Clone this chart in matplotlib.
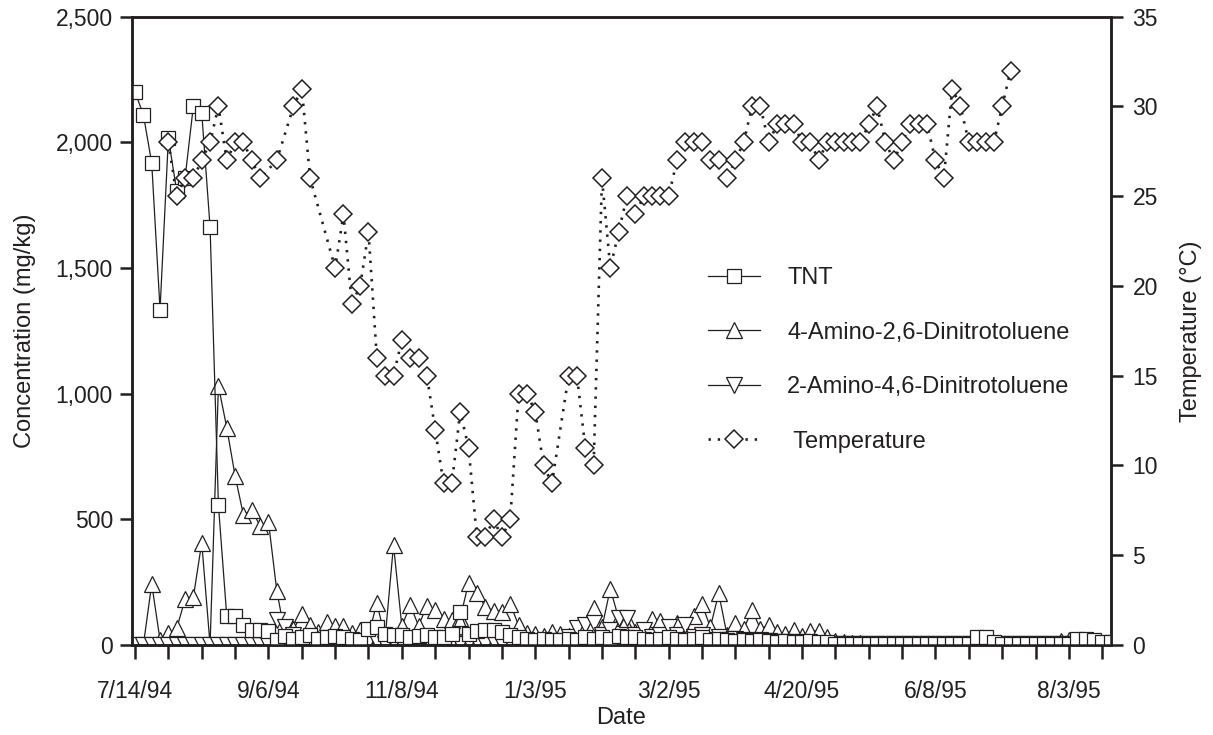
import numpy as np
import matplotlib
matplotlib.use("Agg")
import matplotlib.pyplot as plt
from matplotlib.ticker import FuncFormatter

plt.rcParams['font.family'] = ['Liberation Sans', 'DejaVu Sans']

nan = np.nan
# category index (sampling events, evenly spaced on the category axis)
n_points = 118
tick_labels = {0: "7/14/94", 16: "9/6/94", 32: "11/8/94", 48: "1/3/95",
               64: "3/2/95", 80: "4/20/95", 96: "6/8/95", 112: "8/3/95"}

tnt = [2200, 2110, 1918, 1334, 2017, 1805, 1858, 2146, 2117, 1663, 557, 115, 115, 80, 60, 60, 55,
       20, 35, 25, 30, 40, 25, 30, 35, 30, 25, 20, 65, 70, 45, 40, 40,
       30, 35, 40, 30, 30, 45, 130, 45, 55, 60, 60, 50, 40, 30, 25, 20, 25, 20,
       20, 25, 20, 30, 25, 30, 25, 35, 30, 30, 25, 20, 25, 30, 25, 20, 25, 30, 20, 25,
       20, 15, 20, 15, 20, 15, 10, 15, 10, 10, 15, 10, 10, 5, 5, 5, 5, 5, 5, 5,
       5, 5, 5, 5, 5, 5, 5, 5, 5, 5, 30, 30, 10, 5, 5, 5, 5, 5, 5, 5, 5, 5, 25, 25, 20, 10, 10]

adnt4 = [0, 0, 243, 20, 47, 66, 182, 192, 407, 0, 1031, 865, 673, 517, 537, 474, 491, 216,
         40, 62, 123, 80, 51, 93, 76, 74, 48, 60, 40, 166, 30, 398, 74, 159, 77, 155,
         139, 103, 98, 106, 248, 208, 153, 135, 133, 164, 78, 47, 44, 35, 50, 44, 35, 30, 40, 146,
         70, 224, 106, 102, 50, 45, 102, 94, 60, 86, 60, 117, 163, 70, 206, 40, 86, 64, 139, 64,
         80, 50, 45, 60, 35, 55, 57, 30, 15, 10, 8, 8, 5, 5, 5, 5, 5, 5, 5, 5,
         5, 5, 5, 5, 5, 5, 5, 5, 5, 5, 5, 5, 5, 5, 5, 15, 20, 10, 5, 5, 5, 5]

adnt2 = [0] * 17 + \
        [100, 70, 40, 20, 25, 20, 15, 20, 15, 10, 15, 10] + \
        [10, 5, 10, 5, 10, 5, 10, 10, 5, 10, 5, 10, 10, 5, 10, 5, 10, 10, 5, 10, 5, 10, 15, 30] + \
        [66, 80, 86, 40, 60, 106, 106, 40, 60, 30, 40, 73, 40, 80, 30, 40, 20, 30, 20, 25,
         20, 15, 20, 15, 10, 10, 10, 10] + \
        [5] * 37

temperature = [nan, nan, nan, nan,
               28, 25, 26, 26, 27, 28, 30, 27, 28, 28, 27, 26,
               nan, 27, nan, 30, 31, 26, nan, nan,
               21, 24, 19, 20, 23,
               16, 15, 15, 17, 16, 16, 15, 12, 9,
               9, 13, 11, 6, 6, 7, 6, 7, 14, 14, 13, 10, 9,
               nan, 15, 15, 11, 10, 26, 21,
               23, 25, 24, 25, 25, 25, 25,
               27, 28, 28, 28, 27, 27, 26, 27, 28,
               30, 30, 28, 29, 29, 29, 28, 28,
               27, 28, 28, 28, 28, 28,
               29, 30, 28, 27, 28, 29, 29, 29,
               27, 26, 31, 30, 28, 28, 28, 28, 30, 32] + [nan] * 12

x = np.arange(n_points)
tnt = np.array(tnt, float)
adnt4 = np.array(adnt4, float)
adnt2 = np.array(adnt2, float)
temperature = np.array(temperature, float)

ink = '#231f20'
W, H = 1213, 735
fig = plt.figure(figsize=(W / 100, H / 100), dpi=100)
left, right, bottom, top = 131.7, 1111, 645, 16.7
ax = fig.add_axes([left / W, 1 - bottom / H, (right - left) / W, (bottom - top) / H])
ax2 = ax.twinx()

lw = 0.9
mk = dict(markerfacecolor='white', markeredgecolor=ink, markeredgewidth=0.9)
h1, = ax.plot(x, tnt, '-', color=ink, lw=lw, marker='s', markersize=10, label='TNT', zorder=3, **mk)
h2, = ax.plot(x, adnt4, '-', color=ink, lw=lw, marker='^', markersize=11,
              label='4-Amino-2,6-Dinitrotoluene', zorder=2, **mk)
h3, = ax.plot(x, adnt2, '-', color=ink, lw=lw, marker='v', markersize=11,
              label='2-Amino-4,6-Dinitrotoluene', zorder=2, **mk)
valid = ~np.isnan(temperature)
h4, = ax2.plot(x[valid], temperature[valid], color=ink, lw=1.9, linestyle=(0, (0.9, 2.6)),
               marker='D', markersize=9.3, label=' Temperature',
               markerfacecolor='white', markeredgecolor=ink, markeredgewidth=1.1)

ax.set_xlim(-0.4, 117.05)
ax.set_ylim(0, 2500)
ax2.set_ylim(0, 35)

ax.set_xticks(np.arange(0, 117, 4))
ax.set_xticklabels([tick_labels.get(int(t), "") for t in np.arange(0, 117, 4)])
ax.set_yticks(np.arange(0, 2501, 500))
ax.yaxis.set_major_formatter(FuncFormatter(lambda v, p: f"{int(v):,}"))
ax2.set_yticks(np.arange(0, 36, 5))

tfs = 16.5
lfs = 17
for a in (ax, ax2):
    for s in a.spines.values():
        s.set_linewidth(1.8)
        s.set_color(ink)
ax.tick_params(axis='x', direction='out', length=10, width=1.8, color=ink, pad=15,
               labelsize=tfs, labelcolor=ink)
ax.tick_params(axis='y', direction='out', length=8.5, width=1.8, color=ink, pad=5,
               labelsize=tfs, labelcolor=ink)
ax2.tick_params(axis='y', direction='out', length=8.5, width=1.8, color=ink, pad=7,
                labelsize=tfs, labelcolor=ink)

ax.set_xlabel('Date', fontsize=lfs, color=ink, labelpad=3)
ax.set_ylabel('Concentration (mg/kg)', fontsize=lfs, color=ink, labelpad=14)
ax2.set_ylabel('Temperature (°C)', fontsize=lfs, color=ink, labelpad=16)

leg = fig.legend(handles=[h1, h2, h3, h4], loc='upper left',
                 bbox_to_anchor=(708 / W, 1 - 267 / H), frameon=False,
                 fontsize=lfs, handlelength=2.2, handletextpad=1.15,
                 labelspacing=1.38, borderpad=0, borderaxespad=0, labelcolor=ink)

fig.savefig('out.png', dpi=100)
